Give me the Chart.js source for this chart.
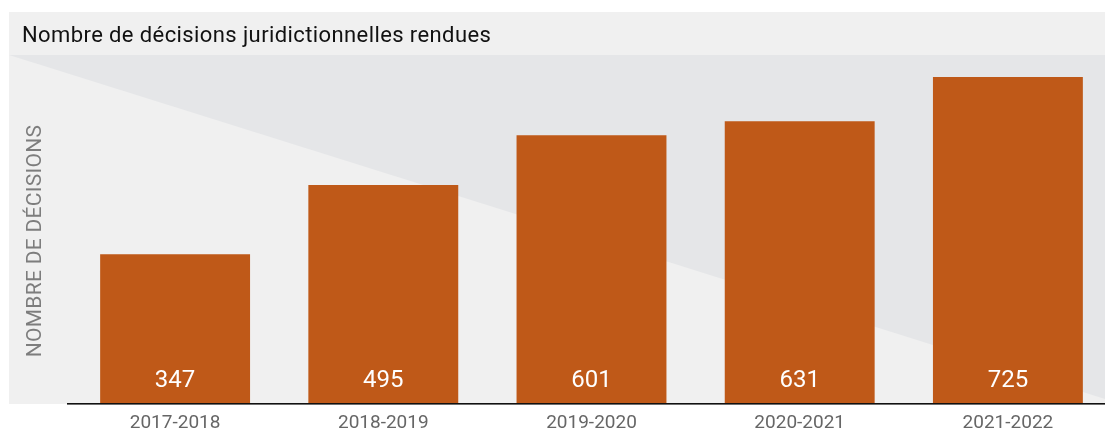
<!DOCTYPE html>
<html lang="fr">
<head>
<meta charset="utf-8">
<title>Nombre de décisions juridictionnelles rendues</title>
<script src="https://cdn.jsdelivr.net/npm/chart.js@4.4.0/dist/chart.umd.min.js"></script>
<style>
  html, body { margin: 0; padding: 0; background: #fff; overflow: hidden; }
  #wrap { position: relative; width: 1105px; height: 431px; overflow: hidden; }
  canvas { position: absolute; left: 0; top: 0; }
</style>
</head>
<body>
<div id="wrap">
  <canvas id="decisionsChart" width="1112" height="443"></canvas>
</div>
<script>
const chartTitle = 'Nombre de décisions juridictionnelles rendues';
const axisTitle = 'NOMBRE DE DÉCISIONS';
const periods = ['2017-2018', '2018-2019', '2019-2020', '2020-2021', '2021-2022'];
const decisions = [347, 495, 601, 631, 725];

const FONT = 'Roboto, "Noto Sans", sans-serif';
const BAR_COLOR = '#bf5918';

// panel background, title band and the diagonal shading behind the bars
const backdrop = {
  id: 'backdrop',
  beforeDraw(chart) {
    const ctx = chart.ctx;
    const area = chart.chartArea;
    ctx.save();
    ctx.fillStyle = '#f0f0f0';
    ctx.fillRect(9, 12, 1096, 392);

    ctx.fillStyle = '#e5e6e8';
    ctx.beginPath();
    ctx.moveTo(9, area.top);
    ctx.lineTo(1105, area.top);
    ctx.lineTo(1105, 399);
    ctx.closePath();
    ctx.fill();

    ctx.fillStyle = '#111';
    ctx.font = '22px ' + FONT;
    ctx.letterSpacing = '0.4px';
    ctx.textBaseline = 'alphabetic';
    ctx.fillText(chartTitle, 22, 42);

    // vertical axis caption
    ctx.translate(36, 241);
    ctx.rotate(-Math.PI / 2);
    ctx.fillStyle = '#7d7d7d';
    ctx.font = '21px ' + FONT;
    ctx.letterSpacing = '0.3px';
    ctx.textAlign = 'center';
    ctx.textBaseline = 'middle';
    ctx.fillText(axisTitle, 0, 0);
    ctx.restore();
  },
  afterDatasetsDraw(chart) {
    const ctx = chart.ctx;
    const meta = chart.getDatasetMeta(0);
    const bottom = chart.chartArea.bottom;
    ctx.save();
    ctx.fillStyle = '#fff';
    ctx.font = '24px ' + FONT;
    ctx.textAlign = 'center';
    ctx.textBaseline = 'alphabetic';
    meta.data.forEach((bar, i) => {
      ctx.fillText(String(decisions[i]), bar.x, bottom - 16);
    });

    // baseline
    ctx.fillStyle = '#111';
    ctx.fillRect(67, bottom, 1038, 1.6);
    ctx.restore();
  }
};

new Chart(document.getElementById('decisionsChart'), {
  type: 'bar',
  data: {
    labels: periods,
    datasets: [{
      label: 'Décisions',
      data: decisions,
      backgroundColor: BAR_COLOR,
      borderWidth: 0,
      categoryPercentage: 1,
      barPercentage: 0.72
    }]
  },
  options: {
    responsive: false,
    animation: false,
    layout: { padding: { left: 71, top: 55, right: 0, bottom: 0 } },
    plugins: {
      legend: { display: false },
      tooltip: { enabled: false }
    },
    scales: {
      x: {
        grid: { display: false, drawTicks: false },
        border: { display: false },
        ticks: {
          color: '#666',
          padding: 8.6,
          font: { family: FONT, size: 19 }
        }
      },
      y: {
        display: false,
        min: 30,
        max: 772
      }
    }
  },
  plugins: [backdrop]
});
</script>
</body>
</html>
